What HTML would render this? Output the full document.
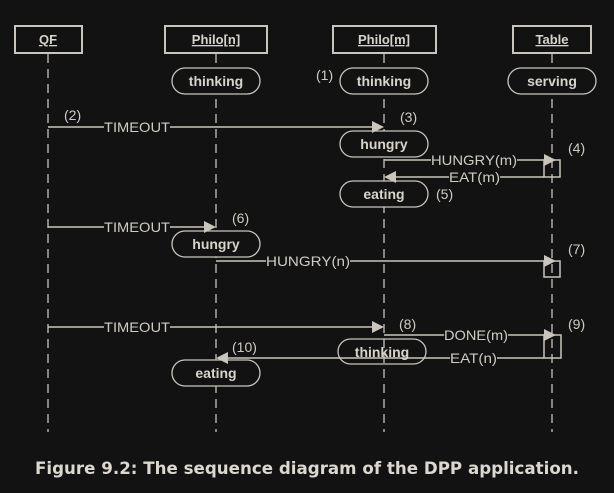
<!DOCTYPE html><html><head><style>body{margin:0;background:#121212}svg{display:block}</style></head><body>
<svg width="614" height="493" viewBox="0 0 614 493" xmlns="http://www.w3.org/2000/svg" font-family="Liberation Sans, sans-serif">
<rect width="614" height="493" fill="#121212"/>
<g stroke="#c9c5bd" stroke-width="1.3" stroke-dasharray="9,6" fill="none">
<line x1="48" y1="54" x2="48" y2="432"/><line x1="216" y1="54" x2="216" y2="432"/><line x1="384" y1="54" x2="384" y2="432"/><line x1="552" y1="54" x2="552" y2="432"/>
</g>
<g stroke="#c9c5bd" stroke-width="2" fill="#121212">
<rect x="15" y="26" width="67" height="27"/><rect x="165" y="26" width="102" height="27"/><rect x="333" y="26" width="103" height="27"/><rect x="513" y="26" width="78" height="27"/>
</g>
<g fill="#d8d4cc" font-weight="bold" font-size="13" text-anchor="middle" text-decoration="underline">
<text x="48" y="44">QF</text><text x="216" y="44">Philo[n]</text><text x="384" y="44">Philo[m]</text><text x="552" y="44">Table</text>
</g>
<g stroke="#c9c5bd" stroke-width="1.3" fill="#121212">
<rect x="172" y="68" width="88" height="26" rx="13"/><rect x="340" y="68" width="88" height="26" rx="13"/><rect x="508" y="68" width="88" height="26" rx="13"/>
<rect x="340" y="131" width="88" height="26" rx="13"/><rect x="340" y="181" width="88" height="26" rx="13"/>
<rect x="172" y="231" width="88" height="26" rx="13"/><rect x="172" y="360" width="88" height="26" rx="13"/>
</g>
<g stroke="#c9c5bd" stroke-width="1.5" fill="none">
<line x1="48" y1="127" x2="372" y2="127"/>
<line x1="384" y1="160" x2="544" y2="160"/>
<line x1="544" y1="177" x2="396" y2="177"/>
<line x1="48" y1="227" x2="204" y2="227"/>
<line x1="216" y1="261" x2="544" y2="261"/>
<line x1="48" y1="327" x2="372" y2="327"/>
<line x1="384" y1="335" x2="544" y2="335"/>
<line x1="544" y1="358" x2="228" y2="358"/>
<rect x="544" y="160" width="16" height="17"/><rect x="544" y="261" width="16" height="16"/><rect x="544" y="335" width="17" height="23"/>
</g>
<rect x="338" y="339" width="88" height="25" rx="12.5" fill="none" stroke="#c9c5bd" stroke-width="1.3"/>
<g fill="#c9c5bd">
<polygon points="384,127 372,121 372,133"/><polygon points="556,160 544,154 544,166"/><polygon points="384,177 396,171 396,183"/>
<polygon points="216,227 204,221 204,233"/><polygon points="556,261 544,255 544,267"/><polygon points="384,327 372,321 372,333"/>
<polygon points="556,335 544,329 544,341"/><polygon points="216,358 228,352 228,364"/>
</g>
<g fill="#121212">
<rect x="104" y="120" width="66" height="14"/><rect x="104" y="220" width="66" height="14"/><rect x="104" y="320" width="66" height="14"/>
<rect x="431" y="153" width="86" height="14"/><rect x="449" y="170" width="51" height="14"/><rect x="266" y="254" width="84" height="14"/>
<rect x="444" y="328" width="64" height="14"/><rect x="450" y="351" width="47" height="14"/>
</g>
<g fill="#d0ccc4" font-size="14">
<text x="104" y="132" textLength="66" lengthAdjust="spacingAndGlyphs">TIMEOUT</text><text x="104" y="232" textLength="66" lengthAdjust="spacingAndGlyphs">TIMEOUT</text><text x="104" y="332" textLength="66" lengthAdjust="spacingAndGlyphs">TIMEOUT</text>
<text x="431" y="165" textLength="86" lengthAdjust="spacingAndGlyphs">HUNGRY(m)</text><text x="449" y="182" textLength="51" lengthAdjust="spacingAndGlyphs">EAT(m)</text><text x="266" y="266" textLength="84" lengthAdjust="spacingAndGlyphs">HUNGRY(n)</text>
<text x="444" y="340" textLength="64" lengthAdjust="spacingAndGlyphs">DONE(m)</text><text x="450" y="363" textLength="47" lengthAdjust="spacingAndGlyphs">EAT(n)</text>
<text x="64" y="120">(2)</text><text x="316" y="80">(1)</text><text x="400" y="122">(3)</text><text x="568" y="153">(4)</text>
<text x="436" y="199">(5)</text><text x="232" y="223">(6)</text><text x="568" y="254">(7)</text><text x="399" y="329">(8)</text>
<text x="568" y="329">(9)</text><text x="232" y="352">(10)</text>
</g>
<g fill="#d8d4cc" font-weight="bold" font-size="14" text-anchor="middle">
<text x="216" y="86">thinking</text><text x="384" y="86">thinking</text><text x="552" y="86">serving</text>
<text x="384" y="149">hungry</text><text x="384" y="199">eating</text><text x="216" y="249">hungry</text>
<text x="382" y="357">thinking</text><text x="216" y="378">eating</text>
</g>
<text x="307" y="474" text-anchor="middle" fill="#dcd8d0" font-size="17" font-weight="bold" font-family="DejaVu Sans, sans-serif" textLength="544" lengthAdjust="spacingAndGlyphs">Figure 9.2: The sequence diagram of the DPP application.</text>
</svg>
</body></html>
